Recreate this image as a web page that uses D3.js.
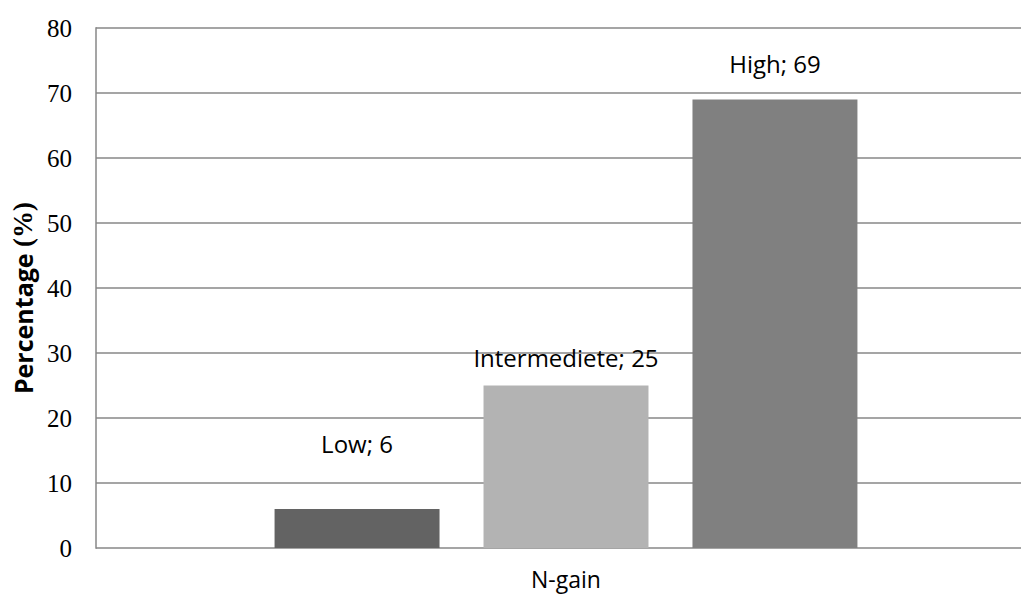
<!DOCTYPE html>
<html><head><meta charset="utf-8">
<script src="https://cdn.jsdelivr.net/npm/d3@7"></script>
<style>body{margin:0;background:#fff}svg{display:block}</style>
</head><body>
<script>
const categories = ["N-gain"];
const series = ["Low", "Intermediete", "High"];
const values = [6, 25, 69];
const colors = ["#636363", "#b3b3b3", "#808080"];
const yTicks = [0, 10, 20, 30, 40, 50, 60, 70, 80];

(function () {
const W = 1021, H = 597;
const svg = d3.select("body").append("svg").attr("width", W).attr("height", H);
const mLeft = 96, mRight = 1036, mTop = 28, mBottom = 548;

const y = d3.scaleLinear().domain([0, 80]).range([mBottom, mTop]);
const x0 = d3.scaleBand().domain(categories).range([mLeft, mRight]).padding(0.2345);
const x1 = d3.scaleBand().domain(series).range([0, x0.bandwidth()]).paddingInner(0.2105).paddingOuter(0);

// gridlines
svg.append("g").selectAll("line").data(yTicks).join("line")
  .attr("x1", mLeft).attr("x2", W).attr("y1", d => y(d)).attr("y2", d => y(d))
  .attr("stroke", "#878787").attr("stroke-width", 1.5);

// left axis line
svg.append("line").attr("x1", mLeft).attr("x2", mLeft).attr("y1", mTop - 0.75).attr("y2", mBottom + 0.75)
  .attr("stroke", "#878787").attr("stroke-width", 1.5);

// y axis via d3
const yAxis = d3.axisLeft(y).tickValues(yTicks).tickSize(0).tickPadding(24);
const ga = svg.append("g").attr("transform", `translate(${mLeft},0)`).call(yAxis);
ga.select(".domain").remove();
ga.attr("font-family", null).attr("font-size", null);
ga.selectAll("text").attr("font-family", "'Liberation Serif', 'Times New Roman', serif")
  .attr("font-size", 25).attr("font-weight", "normal").attr("fill", "#000");

// bars
const g = svg.append("g").attr("transform", `translate(${x0(categories[0])},0)`);
g.selectAll("rect").data(series).join("rect")
  .attr("x", d => x1(d)).attr("width", x1.bandwidth())
  .attr("y", (d, i) => y(values[i])).attr("height", (d, i) => y(0) - y(values[i]))
  .attr("fill", (d, i) => colors[i]);

// data labels (baseline offsets above bar tops)
const labelOffsets = [56, 19, 26.5];
g.selectAll("text").data(series).join("text")
  .attr("x", d => x1(d) + x1.bandwidth() / 2)
  .attr("y", (d, i) => y(values[i]) - labelOffsets[i])
  .attr("text-anchor", "middle")
  .attr("font-family", "'Open Sans', sans-serif").attr("font-size", 24).attr("fill", "#000")
  .text((d, i) => `${d}; ${values[i]}`);

// x category label
svg.append("text").attr("x", x0(categories[0]) + x0.bandwidth() / 2).attr("y", 588)
  .attr("text-anchor", "middle")
  .attr("font-family", "'Open Sans', sans-serif").attr("font-size", 23).text(categories[0]);

// y title
const t = svg.append("text").attr("transform", "translate(23,298) rotate(-90)")
  .attr("text-anchor", "middle").attr("dominant-baseline", "central").attr("font-weight", "bold");
t.append("tspan").attr("font-family", "'Open Sans', sans-serif").attr("font-size", 25).text("Percentage ");
t.append("tspan").attr("font-family", "'Liberation Serif', serif").attr("font-size", 27).text("(%)");
})();
</script>
</body></html>
